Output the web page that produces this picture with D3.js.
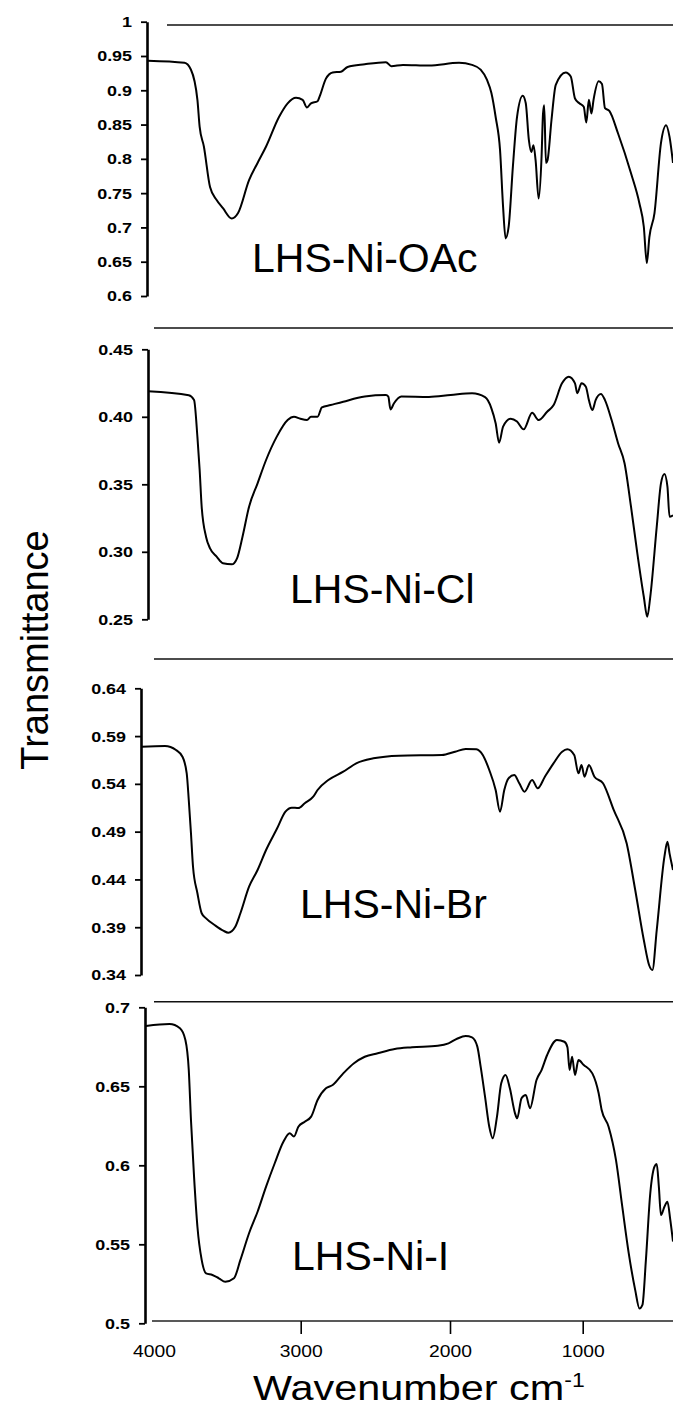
<!DOCTYPE html>
<html><head><meta charset="utf-8">
<script src="https://cdn.jsdelivr.net/npm/d3@7"></script>
<style>
html,body{margin:0;padding:0;background:#fff;}
svg{display:block;font-family:"Liberation Sans",Arial,sans-serif;}
</style></head>
<body>
<svg id="c" width="673" height="1412"></svg>
<script>
// ---------- data ----------
const sampleNames = ["LHS-Ni-OAc", "LHS-Ni-Cl", "LHS-Ni-Br", "LHS-Ni-I"];

const wn1 = [4041,3792,3748,3704,3689,3660,3618,3573,3530,3470,3427,3352,3294,3236,3148,3089,3032,2987,2958,2931,2887,2873,2831,2786,2730,2686,2571,2429,2393,2315,2141,1932,1834,1769,1721,1688,1656,1623,1600,1581,1558,1526,1495,1452,1429,1406,1387,1371,1355,1332,1310,1299,1290,1277,1265,1235,1203,1128,1090,1058,1025,993,976,959,942,928,894,872,852,823,765,679,623,594,574,557,523,480,446,423,400];
const t1 = [0.943,0.940,0.930,0.886,0.847,0.818,0.759,0.740,0.728,0.713,0.721,0.769,0.794,0.818,0.861,0.881,0.889,0.886,0.875,0.881,0.884,0.891,0.917,0.926,0.927,0.934,0.938,0.941,0.935,0.937,0.936,0.940,0.937,0.930,0.915,0.896,0.861,0.813,0.730,0.684,0.701,0.789,0.861,0.892,0.881,0.828,0.810,0.820,0.798,0.742,0.803,0.866,0.878,0.794,0.798,0.857,0.908,0.926,0.920,0.888,0.881,0.876,0.853,0.886,0.866,0.886,0.913,0.909,0.874,0.870,0.837,0.779,0.735,0.701,0.648,0.686,0.721,0.823,0.849,0.832,0.794];

const wn2 = [4041,3763,3727,3704,3689,3675,3645,3618,3573,3530,3470,3434,3397,3352,3294,3236,3163,3089,3046,3002,2958,2931,2887,2858,2800,2715,2571,2429,2413,2399,2375,2326,2141,1995,1834,1736,1688,1656,1630,1600,1543,1495,1445,1381,1332,1268,1219,1156,1105,1058,1041,1009,979,959,936,914,879,852,808,765,722,679,637,594,571,551,508,480,457,437,423,400];
const t2 = [0.419,0.416,0.4125,0.385,0.361,0.3334,0.311,0.3026,0.2964,0.2915,0.2907,0.2952,0.311,0.3334,0.3507,0.368,0.3853,0.3976,0.400,0.3985,0.3976,0.400,0.400,0.407,0.4087,0.4112,0.415,0.4161,0.415,0.4055,0.410,0.415,0.4147,0.4161,0.4174,0.4145,0.4063,0.3952,0.3808,0.3927,0.3986,0.3965,0.3907,0.403,0.3976,0.4038,0.4087,0.4248,0.4297,0.4248,0.4174,0.4248,0.4223,0.4124,0.405,0.4124,0.4169,0.4124,0.3976,0.3804,0.3656,0.3334,0.2989,0.2667,0.2519,0.2667,0.3186,0.3507,0.3576,0.3482,0.326,0.327];

const wn3 = [4085,3925,3850,3806,3777,3763,3748,3734,3704,3675,3645,3587,3528,3493,3446,3411,3352,3294,3236,3163,3104,3061,3016,2973,2916,2887,2815,2715,2628,2513,2342,2054,1962,1882,1801,1753,1704,1656,1623,1591,1559,1516,1478,1439,1381,1339,1285,1220,1155,1116,1064,1032,1009,988,959,922,865,794,708,651,594,559,537,508,457,437,423,400];
const t3 = [0.5789,0.5796,0.5754,0.5684,0.551,0.5231,0.4883,0.4533,0.4255,0.4046,0.3993,0.3923,0.3864,0.3843,0.3905,0.4046,0.4324,0.4499,0.4708,0.4927,0.5109,0.5151,0.5147,0.5197,0.5266,0.5336,0.544,0.5527,0.5615,0.5667,0.5695,0.5702,0.5737,0.5765,0.5762,0.5702,0.5545,0.5336,0.5109,0.5336,0.5458,0.5493,0.5406,0.5318,0.544,0.5354,0.5475,0.5615,0.5737,0.5762,0.5702,0.551,0.5597,0.5475,0.5597,0.5475,0.5406,0.5127,0.4778,0.4289,0.3766,0.3505,0.3452,0.3871,0.4638,0.4795,0.4673,0.4499];

const wn4 = [4055,3894,3823,3786,3763,3748,3727,3704,3675,3645,3602,3558,3514,3455,3411,3352,3294,3236,3177,3118,3075,3046,3016,2973,2930,2887,2831,2786,2715,2643,2571,2484,2370,2254,2082,2010,1947,1882,1834,1794,1769,1736,1704,1678,1646,1614,1581,1549,1510,1494,1461,1429,1397,1348,1310,1268,1194,1138,1115,1099,1080,1058,1032,993,936,894,874,828,779,737,694,651,623,603,580,551,523,508,494,480,457,437,418,400];
const t4 = [0.6882,0.6894,0.6867,0.6793,0.6603,0.6287,0.5928,0.5611,0.5401,0.5316,0.5306,0.5285,0.5263,0.5285,0.5401,0.557,0.5706,0.5865,0.6013,0.6149,0.6203,0.6182,0.6244,0.6276,0.6308,0.6413,0.6487,0.6508,0.6582,0.6646,0.6687,0.6709,0.6736,0.6747,0.6757,0.6772,0.6801,0.6818,0.6810,0.6751,0.6624,0.6434,0.6244,0.6171,0.6308,0.6519,0.6572,0.6487,0.6329,0.6297,0.6424,0.6445,0.6361,0.654,0.6603,0.6698,0.6793,0.6782,0.6747,0.6603,0.6687,0.6572,0.6666,0.6635,0.6582,0.6456,0.635,0.6244,0.6034,0.5738,0.5443,0.521,0.5094,0.5117,0.5401,0.5823,0.5991,0.6008,0.5865,0.5685,0.5738,0.577,0.5654,0.5517];

const yTicks1 = [1,0.95,0.9,0.85,0.8,0.75,0.7,0.65,0.6];
const yLabels1 = ["1","0.95","0.9","0.85","0.8","0.75","0.7","0.65","0.6"];
const yTicks2 = [0.45,0.40,0.35,0.30,0.25];
const yLabels2 = ["0.45","0.40","0.35","0.30","0.25"];
const yTicks3 = [0.64,0.59,0.54,0.49,0.44,0.39,0.34];
const yLabels3 = ["0.64","0.59","0.54","0.49","0.44","0.39","0.34"];
const yTicks4 = [0.7,0.65,0.6,0.55,0.5];
const yLabels4 = ["0.7","0.65","0.6","0.55","0.5"];

const xTicks = [4000,3000,2000,1000];
const xTickLabels = ["4000","3000","2000","1000"];
const yTitle = "Transmittance";
const xTitle = "Wavenumber cm";
const xTitleSup = "-1";

// ---------- layout ----------
const W = 673;
const layout = [
  {axisX:147, top:21.7,  bot:296,    labelX:252, labelY:272,  sepY:25,    sepX0:167},
  {axisX:148, top:349.3, bot:619.3,  labelX:290, labelY:603,  sepY:328,   sepX0:154},
  {axisX:141, top:688.3, bot:975,    labelX:300, labelY:918,  sepY:659,   sepX0:154},
  {axisX:145, top:1007.3,bot:1323.3, labelX:292, labelY:1270, sepY:1001.7,sepX0:154}
];
const series = [
  {wn:wn1, t:t1, ticks:yTicks1, labels:yLabels1},
  {wn:wn2, t:t2, ticks:yTicks2, labels:yLabels2},
  {wn:wn3, t:t3, ticks:yTicks3, labels:yLabels3},
  {wn:wn4, t:t4, ticks:yTicks4, labels:yLabels4}
];

const svg = d3.select("#c");
const x = d3.scaleLinear().domain([4000,3000,2000,1000,400]).range([154,300.7,450,582.7,673]);

series.forEach((s, i) => {
  const L = layout[i];
  const y = d3.scaleLinear().domain([d3.min(s.ticks), d3.max(s.ticks)]).range([L.bot, L.top]);

  svg.append("line").attr("x1", L.sepX0).attr("x2", W).attr("y1", L.sepY).attr("y2", L.sepY)
    .attr("stroke", "#111").attr("stroke-width", 1.6);

  svg.append("clipPath").attr("id", "clip" + i).append("rect")
    .attr("x", L.axisX).attr("y", L.top - 30).attr("width", W - L.axisX).attr("height", L.bot - L.top + 60);

  const pts = s.wn.map((w, k) => [w, s.t[k]]);
  const line = d3.line().x(d => x(d[0])).y(d => y(d[1])).curve(d3.curveMonotoneX);
  svg.append("path").datum(pts).attr("d", line).attr("fill", "none")
    .attr("stroke", "#000").attr("stroke-width", 2).attr("stroke-linejoin", "round")
    .attr("clip-path", "url(#clip" + i + ")");

  const ax = d3.axisLeft(y).tickValues(s.ticks).tickFormat((d, k) => s.labels[k]).tickSize(6).tickSizeOuter(0);
  const g = svg.append("g").attr("transform", `translate(${L.axisX},0)`).call(ax);
  g.select(".domain").attr("stroke", "#000").attr("stroke-width", 2.6);
  g.selectAll(".tick line").attr("stroke", "#000").attr("stroke-width", 1.8);
  g.selectAll(".tick text").attr("x", -11.5).attr("dy", "0.36em")
    .attr("transform", "scale(1.3,1)")
    .style("font-family", "'Liberation Sans',Arial,sans-serif")
    .style("font-weight", "bold").style("font-size", "13.8px").attr("fill", "#000");

  svg.append("text").attr("x", L.labelX).attr("y", L.labelY).text(sampleNames[i])
    .style("font-size", "41px").attr("fill", "#000");
});

// x axis
const xAxisY = 1321;
svg.append("line").attr("x1", 152).attr("x2", W).attr("y1", xAxisY).attr("y2", xAxisY)
  .attr("stroke", "#222").attr("stroke-width", 1.6);
const xa = d3.axisBottom(x).tickValues(xTicks).tickFormat((d, k) => xTickLabels[k]).tickSize(13).tickSizeOuter(0);
const gx = svg.append("g").attr("transform", `translate(0,${xAxisY})`).call(xa);
gx.select(".domain").remove();
gx.selectAll(".tick line").attr("stroke", "#000").attr("stroke-width", 1.6)
  .attr("display", d => d === 4000 ? "none" : null);
gx.selectAll(".tick text").attr("x", 0).attr("y", 36).attr("dy", 0)
  .attr("transform", "scale(1.17,1)")
  .style("font-family", "'Liberation Sans',Arial,sans-serif")
  .style("font-size", "16.5px").attr("fill", "#000");

// axis titles
svg.append("text").attr("transform", "translate(48,650) rotate(-90)").attr("text-anchor", "middle")
  .style("font-size", "38px").attr("fill", "#000").text(yTitle);
const xt = svg.append("text").attr("transform", "translate(253,1400) scale(1.15,1)")
  .style("font-size", "36px").attr("fill", "#000");
xt.append("tspan").text(xTitle);
xt.append("tspan").attr("dy", -13).style("font-size", "20px").text(xTitleSup);
</script>
</body></html>
